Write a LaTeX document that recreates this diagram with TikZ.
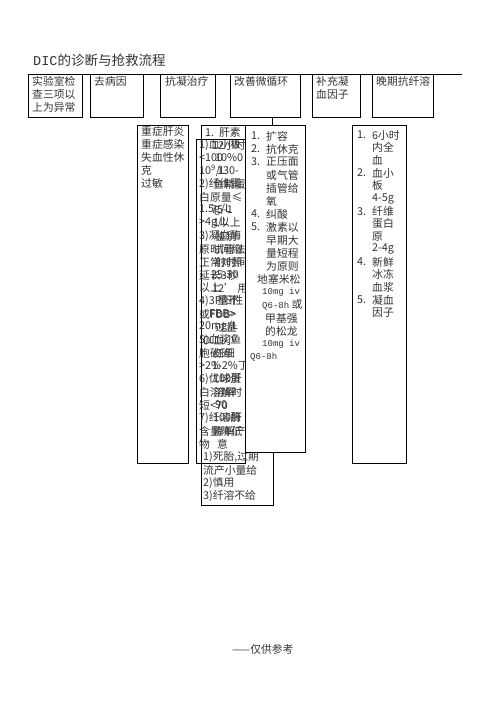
\documentclass[tikz,border=0pt]{standalone}
\usepackage{fontspec}
\setmainfont{Noto Sans CJK SC}
\setmonofont{Liberation Mono}
\usetikzlibrary{positioning}

\newcommand{\dosetext}[1]{{\ttfamily\fontsize{9}{12}\selectfont #1}}

\tikzset{
  cell/.style={draw, line width=0.8pt, inner sep=0pt, outer sep=0pt, anchor=north west},
  txt/.style={anchor=west, inner sep=0pt, text=black!80, font=\fontsize{10.8}{12}\selectfont},
}

\begin{document}
\begin{tikzpicture}[x=1pt, y=-1pt]
\useasboundingbox (0,0) rectangle (496,702);

\node[txt, font=\fontsize{13.5}{15}\selectfont] (title) at (33,60) {{\ttfamily DIC}的诊断与抢救流程};

% head line and first row
\coordinate (L0) at (28,74);
\coordinate (L1) at (462,74);
\draw[line width=0.8pt] (L0) -- (L1);

\node[cell, minimum width=54, minimum height=43] (lab) at (28,74) {};
\node[cell, minimum width=53, minimum height=43] (qu) at (90,74) {};
\node[cell, minimum width=55, minimum height=43] (kang) at (160,74) {};
\node[cell, minimum width=70, minimum height=43] (gai) at (230,74) {};
\node[cell, minimum width=48, minimum height=43] (bu) at (312,74) {};
\node[cell, minimum width=61, minimum height=43] (wan) at (372,74) {};

\node[txt] (lab1) at (32,81) {实验室检};
\node[txt] (lab2) at (32,94) {查三项以};
\node[txt] (lab3) at (32,107) {上为异常};
\node[txt] (qu1) at (94,81) {去病因};
\node[txt] (kang1) at (165,81) {抗凝治疗};
\node[txt] (gai1) at (234,81) {改善微循环};
\node[txt] (bu1) at (316,81) {补充凝};
\node[txt] (bu2) at (316,94) {血因子};
\node[txt] (wan1) at (376,81) {晚期抗纤溶};

% second row
\node[cell, minimum width=51, minimum height=338] (zhong) at (137,125) {};
\foreach \t [count=\i] in {重症肝炎, 重症感染, 失血性休, 克, 过敏}
  \node[txt] (zh\i) at (141, {131+13*(\i-1)}) {\t};

% heparin, two boxes lying over each other
\node[cell, minimum width=72, minimum height=366] (hep) at (201,139) {};
\node[cell, minimum width=49, minimum height=324] (lim) at (196,139) {};
\foreach \t [count=\i] in {1)血小板, <100, 10\textsuperscript{9}/L, 2)纤维蛋, 白原量≤, 1.5g/L, >4g/L, 3)凝血酶,
    原时间缩, 正常对照, 延长3秒, 以上, 4)3P阳性, 或FDB>, 20mg/L, 5)血浆鱼, 胞破碎, >2\%,
    6)优球蛋, 白溶解时, 短<70, 7)纤溶酶, 含量降低, 物}
  \node[txt] (la\i) at (199, {145+13*(\i-1)}) {\t};
\foreach \t [count=\i] in {\hspace{9pt}12小时, \hspace{12pt}10\%0, \hspace{14pt}130-, \hspace{10pt}鱼精蛋, \hspace{22pt},
    \hspace{8pt}75-1, \hspace{10pt}1以上, \hspace{12pt}鉴别, \hspace{10pt}试管法, \hspace{12pt}射时间, \hspace{8pt}25-30,
    \hspace{9pt}12' 用, \hspace{14pt}量不, \hspace{6pt}FBB>, \hspace{12pt}过量, D.血小, \hspace{10pt}红细, \hspace{9pt}1-2\%丁,
    \hspace{10pt}100肝, \hspace{11pt}溶解, \hspace{12pt}90, \hspace{10pt}100肝, \hspace{10pt}降解产, \hspace{14pt}意,
    {1)死胎,过期}, 流产小量给, 2)慎用, 3)纤溶不给}
  \node[txt] (lb\i) at (203, {145+13*(\i-1)}) {\t};

\node[cell, fill=white, minimum width=44, minimum height=14] (gan) at (201,125) {};
\node[txt] (gan1) at (205,132) {1.\ \ 肝素};

% micro circulation
\node[cell, fill=white, minimum width=60, minimum height=327] (kuo) at (245,125) {};
\coordinate (cx) at (272,0);
\draw[line width=0.8pt] (gai.south -| cx) -- (kuo.north -| cx);

\foreach \n/\t [count=\i] in {1./扩容, 2./抗休克, 3./正压面, /或气管, /插管给, /氧, 4./纠酸,
    5./激素以, /早期大, /量短程, /为原则}
{
  \node[txt] (kn\i) at (251, {136+13*(\i-1)}) {\n};
  \node[txt] (kt\i) at (266, {136+13*(\i-1)}) {\t};
}
\node[txt] (kt12) at (257,279) {地塞米松};
\node[txt] (kt13) at (262,292) {\dosetext{10mg iv}};
\node[txt] (kt14) at (262,305) {\dosetext{Q6-8h} 或};
\node[txt] (kt15) at (265,318) {甲基强};
\node[txt] (kt16) at (265,331) {的松龙};
\node[txt] (kt17) at (262,344) {\dosetext{10mg iv}};
\node[txt] (kt18) at (250,357) {\dosetext{Q6-8h}};

% clotting factors
\node[cell, minimum width=54, minimum height=338] (six) at (352,125) {};
\foreach \n/\t [count=\i] in {1./6小时, /内全, /血, 2./血小, /板, /4-5g, 3./纤维, /蛋白, /原, /2-4g,
    4./新鲜, /冰冻, /血浆, 5./凝血, /因子}
{
  \node[txt] (sn\i) at (357, {135+12.7*(\i-1)}) {\n};
  \node[txt] (st\i) at (372, {135+12.7*(\i-1)}) {\t};
}

\node[txt] (foot) at (232,649) {——仅供参考};
\end{tikzpicture}
\end{document}
